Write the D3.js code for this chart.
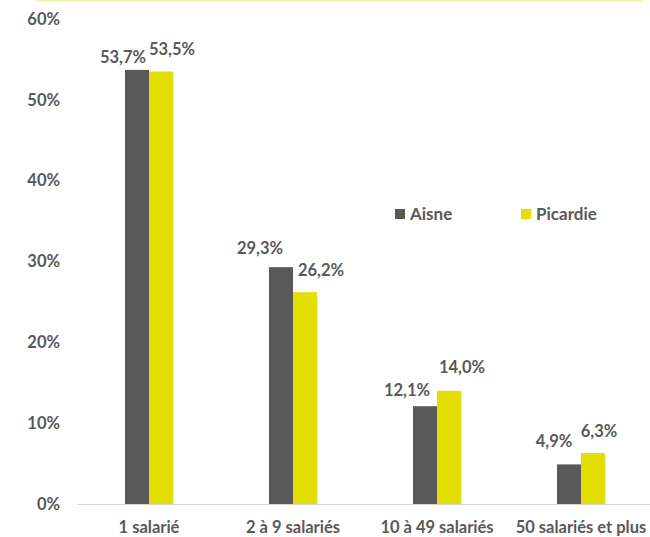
<!DOCTYPE html>
<html lang="fr">
<head>
    <meta charset="UTF-8">
    <title>Établissements par taille</title>
    <script src="https://d3js.org/d3.v7.min.js"></script>
    <style>
        body { margin: 0; background: #fff; }
        text {
            font-family: Lato, "Open Sans", sans-serif;
            font-weight: bold;
            fill: #595959;
        }
    </style>
</head>
<body>
    <div id="chart"></div>

    <script>
        // Data
        const categories = ["1 salarié", "2 à 9 salariés", "10 à 49 salariés", "50 salariés et plus"];
        const seriesNames = ["Aisne", "Picardie"];
        const aisne = [53.7, 29.3, 12.1, 4.9];
        const picardie = [53.5, 26.2, 14.0, 6.3];
        const yTicks = [0, 10, 20, 30, 40, 50, 60];

        const width = 650;
        const height = 537;
        const colors = { Aisne: "#595959", Picardie: "#E3DF00" };

        // label nudges (dx, dy from bar top centre), as placed in the original
        const nudge = {
            Aisne: [[-14, -13], [-21, -19], [-18, -16], [-15, -23]],
            Picardie: [[11, -22], [16, -22], [13, -24], [6, -22]]
        };

        const svg = d3.select("#chart")
            .append("svg")
            .attr("width", width)
            .attr("height", height);

        // thin yellow line at the top
        svg.append("line")
            .attr("x1", 36).attr("x2", 643)
            .attr("y1", 0.5).attr("y2", 0.5)
            .attr("stroke", "#F4F1A0")
            .attr("stroke-width", 2);

        const x = d3.scaleBand()
            .domain(categories)
            .range([77, 653]);

        const xs = d3.scaleBand()
            .domain(seriesNames)
            .range([x.bandwidth() / 2 - 24, x.bandwidth() / 2 + 24]);

        const y = d3.scaleLinear()
            .domain([0, 60])
            .range([504, 19]);

        // y labels
        svg.append("g")
            .selectAll("text")
            .data(yTicks)
            .join("text")
            .attr("x", 60)
            .attr("y", d => y(d))
            .attr("dy", "0.35em")
            .attr("text-anchor", "end")
            .style("font-size", "16.5px")
            .text(d => d + "%");

        // baseline
        svg.append("line")
            .attr("x1", 77).attr("x2", 650)
            .attr("y1", y(0) + 0.5).attr("y2", y(0) + 0.5)
            .attr("stroke", "#D9D9D9")
            .attr("stroke-width", 1);

        const rows = categories.map((c, i) => ({
            cat: c,
            i: i,
            vals: [
                { name: "Aisne", value: aisne[i] },
                { name: "Picardie", value: picardie[i] }
            ]
        }));

        const groups = svg.append("g")
            .selectAll("g")
            .data(rows)
            .join("g")
            .attr("transform", d => `translate(${x(d.cat)},0)`);

        groups.selectAll("rect")
            .data(d => d.vals)
            .join("rect")
            .attr("x", d => xs(d.name))
            .attr("width", xs.bandwidth())
            .attr("y", d => y(d.value))
            .attr("height", d => y(0) - y(d.value))
            .attr("fill", d => colors[d.name]);

        groups.selectAll("text.val")
            .data(d => d.vals.map(v => ({ ...v, i: d.i })))
            .join("text")
            .attr("class", "val")
            .attr("x", d => xs(d.name) + xs.bandwidth() / 2 + nudge[d.name][d.i][0])
            .attr("y", d => y(d.value) + nudge[d.name][d.i][1])
            .attr("dy", "0.35em")
            .attr("text-anchor", "middle")
            .style("font-size", "16.5px")
            .text(d => d.value.toFixed(1).replace(".", ",") + "%");

        // x labels
        svg.append("g")
            .selectAll("text")
            .data(categories)
            .join("text")
            .attr("x", d => x(d) + x.bandwidth() / 2)
            .attr("y", 527)
            .attr("dy", "0.35em")
            .attr("text-anchor", "middle")
            .style("font-size", "16.5px")
            .text(d => d);

        // legend
        const legend = svg.append("g")
            .selectAll("g")
            .data(seriesNames)
            .join("g")
            .attr("transform", (d, i) => `translate(${395 + i * 126},214)`);

        legend.append("rect")
            .attr("x", 0).attr("y", -5)
            .attr("width", 10).attr("height", 10)
            .attr("fill", d => colors[d]);

        legend.append("text")
            .attr("x", 15)
            .attr("dy", "0.35em")
            .style("font-size", "17px")
            .text(d => d);
    </script>
</body>
</html>
